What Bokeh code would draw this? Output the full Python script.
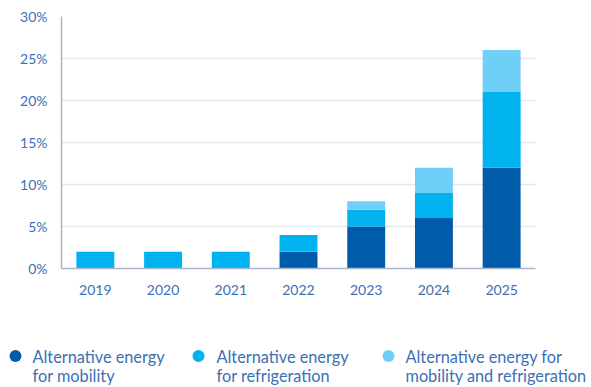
from bokeh.plotting import figure
from bokeh.layouts import column, row
from bokeh.models import (FactorRange, Range1d, FixedTicker, PrintfTickFormatter,
                          ColumnDataSource)
from bokeh.core.properties import value
from bokeh.embed import file_html
from bokeh.resources import INLINE

years = ["2019", "2020", "2021", "2022", "2023", "2024", "2025"]
mobility = [0, 0, 0, 2, 5, 6, 12]
refrigeration = [2, 2, 2, 2, 2, 3, 9]
both = [0, 0, 0, 0, 1, 3, 5]
series_labels = ["Alternative energy\nfor mobility",
                 "Alternative energy\nfor refrigeration",
                 "Alternative energy for\nmobility and refrigeration"]
y_ticks = [0, 5, 10, 15, 20, 25, 30]

colors = ["#005BAA", "#00B2EE", "#70CFF6"]
text_color = "#3A70B6"
font = "Lato"

src = ColumnDataSource(dict(year=years, mobility=mobility,
                            refrigeration=refrigeration, both=both))

p = figure(width=591, height=310, x_range=FactorRange(*years, range_padding=0),
           y_range=Range1d(0, 30), output_backend="svg", toolbar_location=None,
           min_border_left=61, min_border_right=56, min_border_top=16,
           min_border_bottom=42)
p.vbar_stack(["mobility", "refrigeration", "both"], x="year", width=0.56,
             color=colors, source=src, line_width=0)

p.outline_line_color = None
p.xgrid.grid_line_color = None
p.ygrid.grid_line_color = "#E3E8F0"
p.ygrid.grid_line_width = 1.5
p.yaxis.ticker = FixedTicker(ticks=y_ticks)
p.yaxis.formatter = PrintfTickFormatter(format="%d%%")
for ax in (p.xaxis[0], p.yaxis[0]):
    ax.axis_line_color = "#A9B6CB"
    ax.axis_line_width = 1.5
    ax.major_tick_line_color = None
    ax.minor_tick_line_color = None
    ax.major_label_text_color = text_color
    ax.major_label_text_font = font
    ax.major_label_text_font_size = "14px"
p.yaxis.major_label_standoff = 8
p.xaxis.major_label_standoff = 10

# legend panel (pixel coordinates, y pointing down)
lg = figure(width=591, height=77, output_backend="svg", toolbar_location=None,
            min_border=0, min_border_left=0, min_border_right=0,
            min_border_top=0, min_border_bottom=0,
            x_axis_location=None, y_axis_location=None,
            x_range=Range1d(0, 591), y_range=Range1d(77, 0))
lg.grid.visible = False
lg.outline_line_color = None
marker_x = [15, 198, 388]
label_x = [32, 216, 405]
lsrc = ColumnDataSource(dict(mx=marker_x, lx=label_x, my=[45.5] * 3,
                             ly=[55] * 3, color=colors, label=series_labels))
lg.scatter(x="mx", y="my", marker="circle", size=12, color="color",
           line_width=0, source=lsrc)
lg.text(x="lx", y="ly", text="label", text_font=value(font),
        text_font_size="16.3px", text_color=text_color, text_baseline="middle",
        text_align="left", text_line_height=1.0, source=lsrc)

layout = column(p, row(lg, spacing=0), spacing=0)
open("out.html", "w").write(file_html(layout, INLINE))
